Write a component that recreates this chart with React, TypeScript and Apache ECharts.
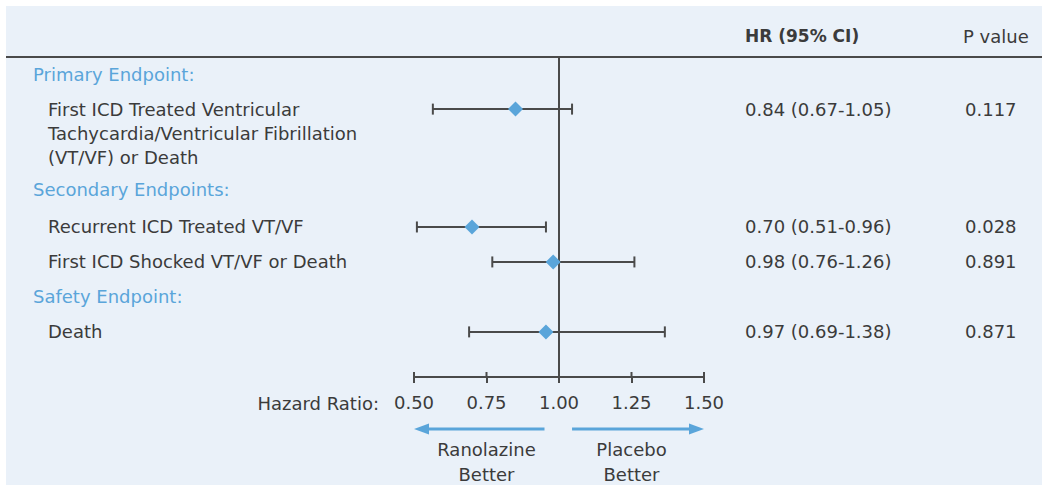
import React, { useEffect, useRef } from "react";
import * as echarts from "echarts";

const rowLabels = [
  "Primary Endpoint:",
  "First ICD Treated Ventricular\nTachycardia/Ventricular Fibrillation\n(VT/VF) or Death",
  "Secondary Endpoints:",
  "Recurrent ICD Treated VT/VF",
  "First ICD Shocked VT/VF or Death",
  "Safety Endpoint:",
  "Death",
];
const rowIsHeader = [true, false, true, false, false, true, false];
const rowSlot = [0.49, 1.49, 3.8, 4.86, 5.86, 6.86, 7.86];
const hrPoint = [null, 0.85, null, 0.7, 0.98, null, 0.955];
const ciLow = [null, 0.565, null, 0.51, 0.77, null, 0.69];
const ciHigh = [null, 1.045, null, 0.955, 1.26, null, 1.365];
const hrText = ["", "0.84 (0.67-1.05)", "", "0.70 (0.51-0.96)", "0.98 (0.76-1.26)", "", "0.97 (0.69-1.38)"];
const pText = ["", "0.117", "", "0.028", "0.891", "", "0.871"];
const xMin = 0.5;
const xMax = 1.5;
const xInterval = 0.25;
const xTicks = [0.5, 0.75, 1.0, 1.25, 1.5];
const favourLabels = ["Ranolazine\nBetter", "Placebo\nBetter"];
const favourCenter = [0.75, 1.25];
const favourFrom = [0.95, 1.045];
const favourTo = [0.5, 1.5];

const FONT = "'DejaVu Sans', 'Open Sans', sans-serif";
const TEXT = "#3b3b3b";
const BLUE = "#5aa5da";
const LINE = "#4a4a4a";
const BG = "#eaf1f9";
const FS = 18;
const Y_MAX = 9.15;

export default function App() {
  const ref = useRef<HTMLDivElement>(null);

  useEffect(() => {
    if (!ref.current) return;
    const chart = echarts.init(ref.current, null, { renderer: "svg" });

    const forestData = hrPoint
      .map((h, i) => (h == null ? null : [ciLow[i], h, ciHigh[i], rowSlot[i]]))
      .filter((d) => d != null);

    const labelData = rowLabels.map((_, i) => [1, rowSlot[i], i]);
    const favourData = favourLabels.map((_, i) => [favourFrom[i], favourTo[i], favourCenter[i], Y_MAX, i]);
    const tickData = xTicks.map((v) => [v, Y_MAX]);

    const txt = (extra: any) => ({
      fill: TEXT,
      fontSize: FS,
      fontFamily: FONT,
      verticalAlign: "middle",
      align: "left",
      ...extra,
    });

    const option: any = {
      animation: false,
      backgroundColor: "#ffffff",
      textStyle: { fontFamily: FONT },
      grid: { left: 414, right: 338, top: 57, bottom: 108 },
      xAxis: {
        type: "value",
        min: xMin,
        max: xMax,
        interval: xInterval,
        position: "bottom",
        splitLine: { show: false },
        axisLine: { show: true, onZero: false, lineStyle: { color: LINE, width: 2 } },
        axisTick: { show: true, length: 6, lineStyle: { color: LINE, width: 2 } },
        axisLabel: {
          color: TEXT,
          fontSize: FS,
          fontFamily: FONT,
          margin: 16,
          formatter: (v: number) => v.toFixed(2),
        },
      },
      yAxis: {
        type: "value",
        min: 0,
        max: Y_MAX,
        inverse: true,
        show: false,
        axisLine: { onZero: false },
      },
      graphic: [
        { type: "rect", z: -10, shape: { x: 6, y: 6, width: 1036, height: 479 }, style: { fill: BG } },
        { type: "line", shape: { x1: 6, y1: 57, x2: 1042, y2: 57 }, style: { stroke: LINE, lineWidth: 2 } },
        { type: "text", x: 745, y: 36, style: txt({ text: "HR (95% CI)", fontWeight: "bold", fontSize: 17 }) },
        { type: "text", x: 963, y: 36, style: txt({ text: "P value" }) },
        { type: "text", x: 379, y: 403, style: txt({ text: "Hazard Ratio:", align: "right" }) },
      ],
      series: [
        {
          type: "custom",
          encode: { x: [0, 1, 2], y: 3 },
          data: forestData,
          z: 5,
          renderItem: (params: any, api: any) => {
            const pos = api.value(3);
            const pLo = api.coord([api.value(0), pos]);
            const pHr = api.coord([api.value(1), pos]);
            const pHi = api.coord([api.value(2), pos]);
            const y = pLo[1];
            const cap = 5.5;
            const d = 7.5;
            const ls = { stroke: LINE, lineWidth: 2 };
            return {
              type: "group",
              children: [
                { type: "line", shape: { x1: pLo[0], y1: y, x2: pHi[0], y2: y }, style: ls },
                { type: "line", shape: { x1: pLo[0], y1: y - cap, x2: pLo[0], y2: y + cap }, style: ls },
                { type: "line", shape: { x1: pHi[0], y1: y - cap, x2: pHi[0], y2: y + cap }, style: ls },
                {
                  type: "polygon",
                  z2: 10,
                  shape: {
                    points: [
                      [pHr[0] - d, y],
                      [pHr[0], y - d],
                      [pHr[0] + d, y],
                      [pHr[0], y + d],
                    ],
                  },
                  style: { fill: BLUE },
                },
              ],
            };
          },
          markLine: {
            silent: true,
            symbol: "none",
            label: { show: false },
            lineStyle: { color: LINE, width: 2, type: "solid" },
            data: [{ xAxis: 1 }],
          },
        },
        {
          type: "custom",
          encode: { x: 0, y: 1 },
          data: tickData,
          renderItem: (params: any, api: any) => {
            const p = api.coord([api.value(0), api.value(1)]);
            return {
              type: "line",
              shape: { x1: p[0], y1: p[1] - 5, x2: p[0], y2: p[1] },
              style: { stroke: LINE, lineWidth: 2 },
            };
          },
        },
        {
          type: "custom",
          encode: { x: 0, y: 1 },
          data: labelData,
          renderItem: (params: any, api: any) => {
            const i = api.value(2);
            const y = api.coord([1, api.value(1)])[1];
            const header = rowIsHeader[i];
            const lines = rowLabels[i].split("\n");
            const children: any[] = lines.map((t, k) => ({
              type: "text",
              x: header ? 33 : 48,
              y: y + k * 24,
              style: txt({ text: t, fill: header ? BLUE : TEXT }),
            }));
            if (hrText[i]) {
              children.push({ type: "text", x: 745, y, style: txt({ text: hrText[i] }) });
            }
            if (pText[i]) {
              children.push({ type: "text", x: 965, y, style: txt({ text: pText[i] }) });
            }
            return { type: "group", children };
          },
        },
        {
          type: "custom",
          encode: { x: [0, 1, 2], y: 3 },
          data: favourData,
          renderItem: (params: any, api: any) => {
            const i = api.value(4);
            const base = api.coord([api.value(2), api.value(3)]);
            const pFrom = api.coord([api.value(0), api.value(3)]);
            const pTo = api.coord([api.value(1), api.value(3)]);
            const ay = base[1] + 52;
            const dir = pTo[0] > pFrom[0] ? 1 : -1;
            const head = 15;
            const hh = 5.5;
            const lines = favourLabels[i].split("\n");
            return {
              type: "group",
              children: [
                {
                  type: "line",
                  shape: { x1: pFrom[0], y1: ay, x2: pTo[0] - dir * head, y2: ay },
                  style: { stroke: BLUE, lineWidth: 3 },
                },
                {
                  type: "polygon",
                  shape: {
                    points: [
                      [pTo[0], ay],
                      [pTo[0] - dir * head, ay - hh],
                      [pTo[0] - dir * head, ay + hh],
                    ],
                  },
                  style: { fill: BLUE },
                },
                ...lines.map((t, k) => ({
                  type: "text",
                  x: base[0],
                  y: base[1] + 72 + k * 25,
                  style: txt({ text: t, align: "center" }),
                })),
              ],
            };
          },
        },
      ],
    };

    chart.setOption(option);
    return () => chart.dispose();
  }, []);

  return (
    <div
      ref={ref}
      style={{ position: "fixed", left: 0, top: 0, width: 1042, height: 485 }}
    />
  );
}
